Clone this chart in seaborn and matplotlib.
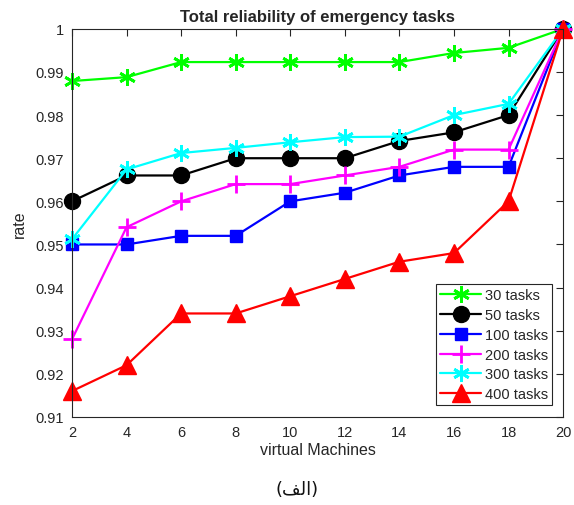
import numpy as np
import pandas as pd
import matplotlib
matplotlib.use("Agg")
import matplotlib.pyplot as plt
import seaborn as sns

# Number of virtual machines
machines = [2, 4, 6, 8, 10, 12, 14, 16, 18, 20]

# Reliability rate per task load
rate_30 = [0.9879, 0.9888, 0.9923, 0.9923, 0.9923, 0.9923, 0.9923, 0.9944, 0.9956, 1.0]
rate_50 = [0.960, 0.966, 0.966, 0.970, 0.970, 0.970, 0.974, 0.976, 0.980, 1.0]
rate_100 = [0.950, 0.950, 0.952, 0.952, 0.960, 0.962, 0.966, 0.968, 0.968, 1.0]
rate_200 = [0.928, 0.954, 0.960, 0.964, 0.964, 0.966, 0.968, 0.972, 0.972, 1.0]
rate_300 = [0.9512, 0.9674, 0.9712, 0.9724, 0.9737, 0.9749, 0.9750, 0.9800, 0.9826, 1.0]
rate_400 = [0.916, 0.922, 0.934, 0.934, 0.938, 0.942, 0.946, 0.948, 0.960, 1.0]

series_names = ["30 tasks", "50 tasks", "100 tasks", "200 tasks", "300 tasks", "400 tasks"]
series_values = [rate_30, rate_50, rate_100, rate_200, rate_300, rate_400]

y_ticks = [0.91, 0.92, 0.93, 0.94, 0.95, 0.96, 0.97, 0.98, 0.99, 1.0]
y_tick_labels = ["0.91", "0.92", "0.93", "0.94", "0.95", "0.96", "0.97", "0.98", "0.99", "1"]

title_text = "Total reliability of emergency tasks"
x_label = "virtual Machines"
y_label = "rate"
caption = "(الف)"

# Styling per series
colors = ["#00ff00", "#000000", "#0000ff", "#ff00ff", "#00ffff", "#ff0000"]
markers = [(6, 2, 0), "o", "s", "+", (6, 2, 0), "^"]
marker_sizes = [12, 11.5, 9, 13, 12, 12.5]

df = pd.DataFrame({
    "machines": np.tile(machines, len(series_names)),
    "rate": np.concatenate(series_values),
    "series": np.repeat(series_names, len(machines)),
})


def arabic_visual(text):
    """Shape a short Arabic word into presentation forms, in visual order."""
    forms = {
        "ا": ("\ufe8d", "\ufe8e", None, None),
        "ل": ("\ufedd", "\ufede", "\ufedf", "\ufee0"),
        "ف": ("\ufed1", "\ufed2", "\ufed3", "\ufed4"),
    }
    non_joining_left = {"ا"}
    chars = list(text)
    shaped = []
    for i, ch in enumerate(chars):
        if ch not in forms:
            shaped.append(ch)
            continue
        prev = chars[i - 1] if i > 0 else None
        nxt = chars[i + 1] if i + 1 < len(chars) else None
        joins_prev = prev in forms and prev not in non_joining_left
        joins_next = nxt in forms and ch not in non_joining_left
        iso, fin, ini, med = forms[ch]
        if joins_prev and joins_next:
            shaped.append(med)
        elif joins_prev:
            shaped.append(fin)
        elif joins_next:
            shaped.append(ini)
        else:
            shaped.append(iso)
    out = "".join(reversed(shaped))
    mirror = {"(": ")", ")": "("}
    return "".join(mirror.get(c, c) for c in out)


sns.set_theme(style="white")
plt.rcParams["font.family"] = ["Liberation Sans", "DejaVu Sans"]

fig = plt.figure(figsize=(5.74, 5.06), dpi=100)
ax = fig.add_axes([0.1254, 0.174, 0.8556, 0.767])

for name, color, mk, ms in zip(series_names, colors, markers, marker_sizes):
    sub = df[df["series"] == name]
    mew = 2.0 if mk in ("+",) or isinstance(mk, tuple) else 1.0
    sns.lineplot(data=sub, x="machines", y="rate", ax=ax, color=color,
                 marker=mk, markersize=ms, markeredgecolor=color,
                 markerfacecolor=color, markeredgewidth=mew,
                 linewidth=1.6, label=name, clip_on=False)

ax.set_xlim(2, 20)
ax.set_ylim(0.91, 1.0)
ax.set_xticks(machines)
ax.set_xticklabels([str(m) for m in machines])
ax.set_yticks(y_ticks)
ax.set_yticklabels(y_tick_labels)

ax.tick_params(axis="both", which="both", direction="in", length=5, width=0.8,
               top=True, right=True, labelsize=10.5, colors="#262626",
               labelcolor="#262626", pad=6)
for sp in ax.spines.values():
    sp.set_color("#262626")
    sp.set_linewidth(0.8)

ax.set_title(title_text, fontsize=12, fontweight="bold", pad=6)
ax.set_xlabel(x_label, fontsize=11.5, color="#262626", labelpad=2)
ax.set_ylabel(y_label, fontsize=11.5, color="#262626", labelpad=6)

leg = ax.legend(loc="lower right", bbox_to_anchor=(0.9776, 0.031), fontsize=10.5,
                frameon=True, fancybox=False, edgecolor="#262626",
                framealpha=1, handlelength=2.8, handletextpad=0.3,
                borderpad=0.25, labelspacing=0.4, borderaxespad=0.0)
leg.get_frame().set_linewidth(0.8)

fig.text(0.517, 0.032, arabic_visual(caption), ha="center", va="center",
         fontsize=13, family=["DejaVu Sans"], color="#111111")

fig.savefig("out.png", dpi=100)
